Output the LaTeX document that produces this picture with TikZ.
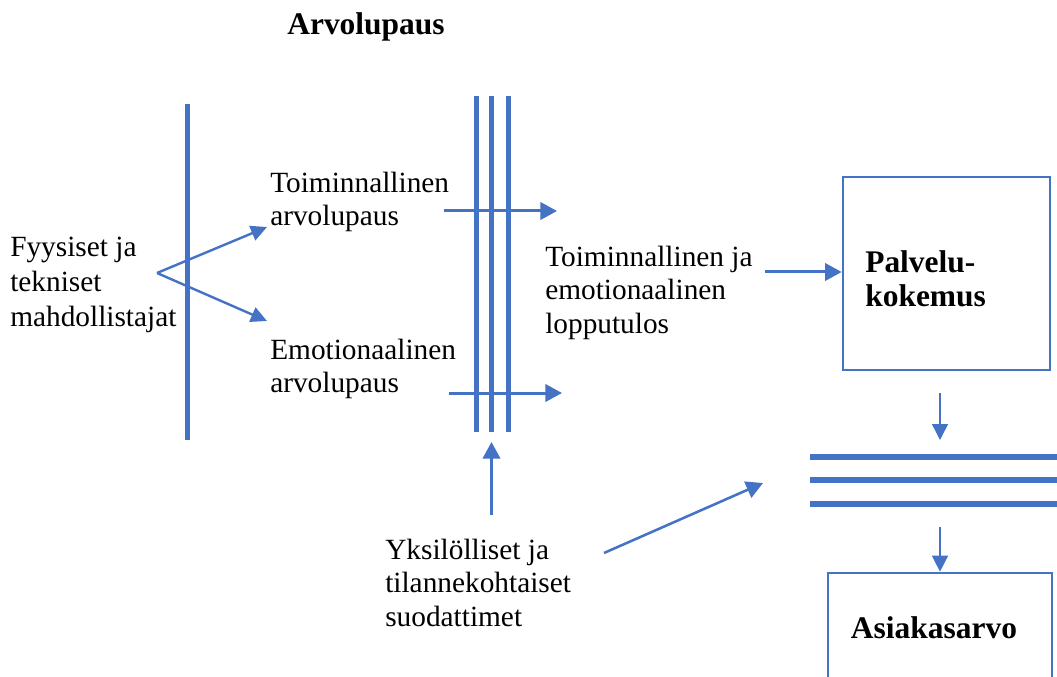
\documentclass[tikz,border=0pt]{standalone}
\usepackage{fontspec}
\setmainfont{Liberation Serif}
\usetikzlibrary{arrows.meta}
\definecolor{accent}{HTML}{4472C4}
\begin{document}
\begin{tikzpicture}[x=0.75pt,y=-0.75pt,
  bar/.style={draw=accent, line width=3.75pt},
  hbar/.style={draw=accent, line width=4.5pt},
  flow/.style={draw=accent, line width=2.25pt, -{Triangle[length=12.5pt,width=13pt]}},
  fan/.style={draw=accent, line width=1.8pt, -{Triangle[length=12pt,width=11.5pt]}},
  thinflow/.style={draw=accent, line width=1.1pt, -{Triangle[length=12pt,width=12pt]}},
  box/.style={draw=accent, line width=2pt, inner sep=0},
  lbl/.style={font=\fontsize{22}{25}\selectfont, align=left, anchor=north west, inner sep=0},
  head/.style={font=\fontsize{23.6}{25.5}\selectfont\bfseries, align=left, inner sep=0}]
\clip (0,0) rectangle (1057,677);

% title
\node[head, anchor=north] (title) at (366,12) {Arvolupaus};

% text labels
\node[lbl] (enablers) at (10,237) {Fyysiset ja\\[1pt]tekniset\\[1pt]mahdollistajat};
\node[lbl] (funcpromise) at (270,172) {Toiminnallinen\\arvolupaus};
\node[lbl] (emopromise) at (270,339) {Emotionaalinen\\arvolupaus};
\node[lbl] (outcome) at (545,246) {Toiminnallinen ja\\emotionaalinen\\lopputulos};
\node[lbl] (filters) at (385,539) {Yksilölliset ja\\tilannekohtaiset\\suodattimet};

% boxes
\node[box, minimum width=155.25pt, minimum height=144.75pt] (service) at (946.5,273.5) {};
\node[head, anchor=north west] (servicetxt) at (865,250) {Palvelu-\\kokemus};
\node[box, minimum width=168pt, minimum height=110.25pt] (value) at (940,646.5) {};
\node[head] (valuetxt) at (934,628) {Asiakasarvo};

% vertical bar left
\coordinate (b1t) at (187,104);
\coordinate (b1b) at (187,440);
\draw[bar] (b1t) -- (b1b);

% triple vertical bars
\foreach \x/\n in {476.5/a,491.5/b,508/c}{
  \coordinate (v\n t) at (\x,96);
  \coordinate (v\n b) at (\x,432);
  \draw[bar] (v\n t) -- (v\n b);
}

% triple horizontal bars
\foreach \y/\n in {457/a,479.5/b,504/c}{
  \coordinate (h\n l) at (810,\y);
  \coordinate (h\n r) at (1062,\y);
  \draw[hbar] (h\n l) -- (h\n r);
}

% fan from enablers
\coordinate (fan) at (157,273);
\coordinate (fanup) at (267,227);
\coordinate (fandn) at (267,321);
\draw[fan] (fan) -- (fanup);
\draw[fan] (fan) -- (fandn);

% horizontal arrows through the triple bars
\coordinate (a1s) at (444,211);
\coordinate (a1e) at (557,211);
\draw[flow] (a1s) -- (a1e);
\coordinate (a2s) at (449,393);
\coordinate (a2e) at (562,393);
\draw[flow] (a2s) -- (a2e);

% filters up into the bars
\coordinate (ups) at (491.5,515);
\coordinate (upe) at (491.5,442);
\draw[flow] (ups) -- (upe);

% outcome into service experience
\coordinate (toserv) at (765,272);
\draw[flow] (toserv) -- (toserv -| service.west);

% service experience down to the horizontal bars
\coordinate (d1s) at (940,393);
\coordinate (d1e) at (940,440);
\draw[thinflow] (d1s) -- (d1e);

% horizontal bars down to customer value
\coordinate (d2s) at (940,527);
\draw[thinflow] (d2s) -- (value.north);

% filters to the horizontal bars
\coordinate (dgs) at (604,553);
\coordinate (dge) at (763,483);
\draw[flow, line width=1.9pt] (dgs) -- (dge);
\end{tikzpicture}
\end{document}
